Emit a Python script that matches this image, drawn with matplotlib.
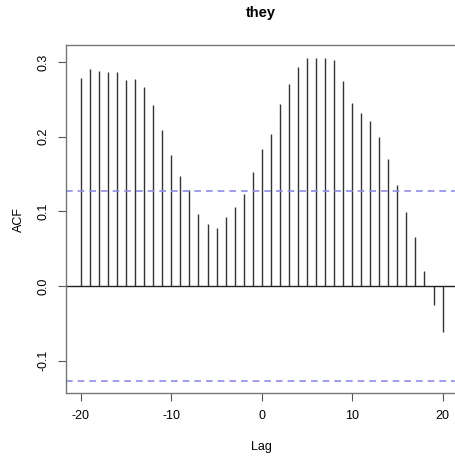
import numpy as np
import matplotlib.pyplot as plt

plt.rcParams['font.family'] = ['Liberation Sans', 'DejaVu Sans']

# lags and cross-correlation values
lags = list(range(-20, 21))
acf_vals = [0.278, 0.290, 0.288, 0.287, 0.287, 0.276, 0.277, 0.266, 0.243, 0.209,
            0.176, 0.147, 0.128, 0.097, 0.083, 0.078, 0.093, 0.106, 0.123, 0.153,
            0.184, 0.203, 0.244, 0.271, 0.293, 0.305, 0.306, 0.305, 0.303, 0.275,
            0.245, 0.232, 0.221, 0.199, 0.170, 0.135, 0.099, 0.066, 0.020, -0.025,
            -0.062]
conf_limit = 0.1268
x_ticks = [-20, -10, 0, 10, 20]
y_ticks = [-0.1, 0.0, 0.1, 0.2, 0.3]

W, H = 455, 459
fig = plt.figure(figsize=(W / 100, H / 100), dpi=100)
ax = fig.add_axes([66 / W, (H - 393.3) / H, 391.5 / W, 348.6 / H])

# barres verticales type R
ax.vlines(lags, 0, acf_vals, color='#333333', lw=1.0)
ax.axhline(0, color='#222222', lw=1.0)
ax.axhline(conf_limit, color='#8c8ce6', lw=1.2, ls=(0, (4, 3)))
ax.axhline(-conf_limit, color='#8c8ce6', lw=1.2, ls=(0, (4, 3)))

ax.set_xlim(-21.65, 21.65)
ax.set_ylim(-0.1437, 0.3232)
ax.set_xticks(x_ticks)
ax.set_xticklabels([str(t) for t in x_ticks])
ax.set_yticks(y_ticks)
ax.set_yticklabels(['-0.1', '0.0', '0.1', '0.2', '0.3'], rotation=90, va='center')

for s in ax.spines.values():
    s.set_color('#777777')
    s.set_linewidth(1.0)
ax.tick_params(direction='out', length=6, width=0.8, color='#555555',
               labelsize=9, pad=6)

ax.set_xlabel('Lag', fontsize=9, labelpad=14)
ax.set_ylabel('ACF', fontsize=9, labelpad=9)
fig.text((66 + 195.3) / W, 1 - 13 / H, 'they', ha='center', va='center',
         fontsize=10.5, fontweight='bold')

fig.savefig('out.png', dpi=100)
